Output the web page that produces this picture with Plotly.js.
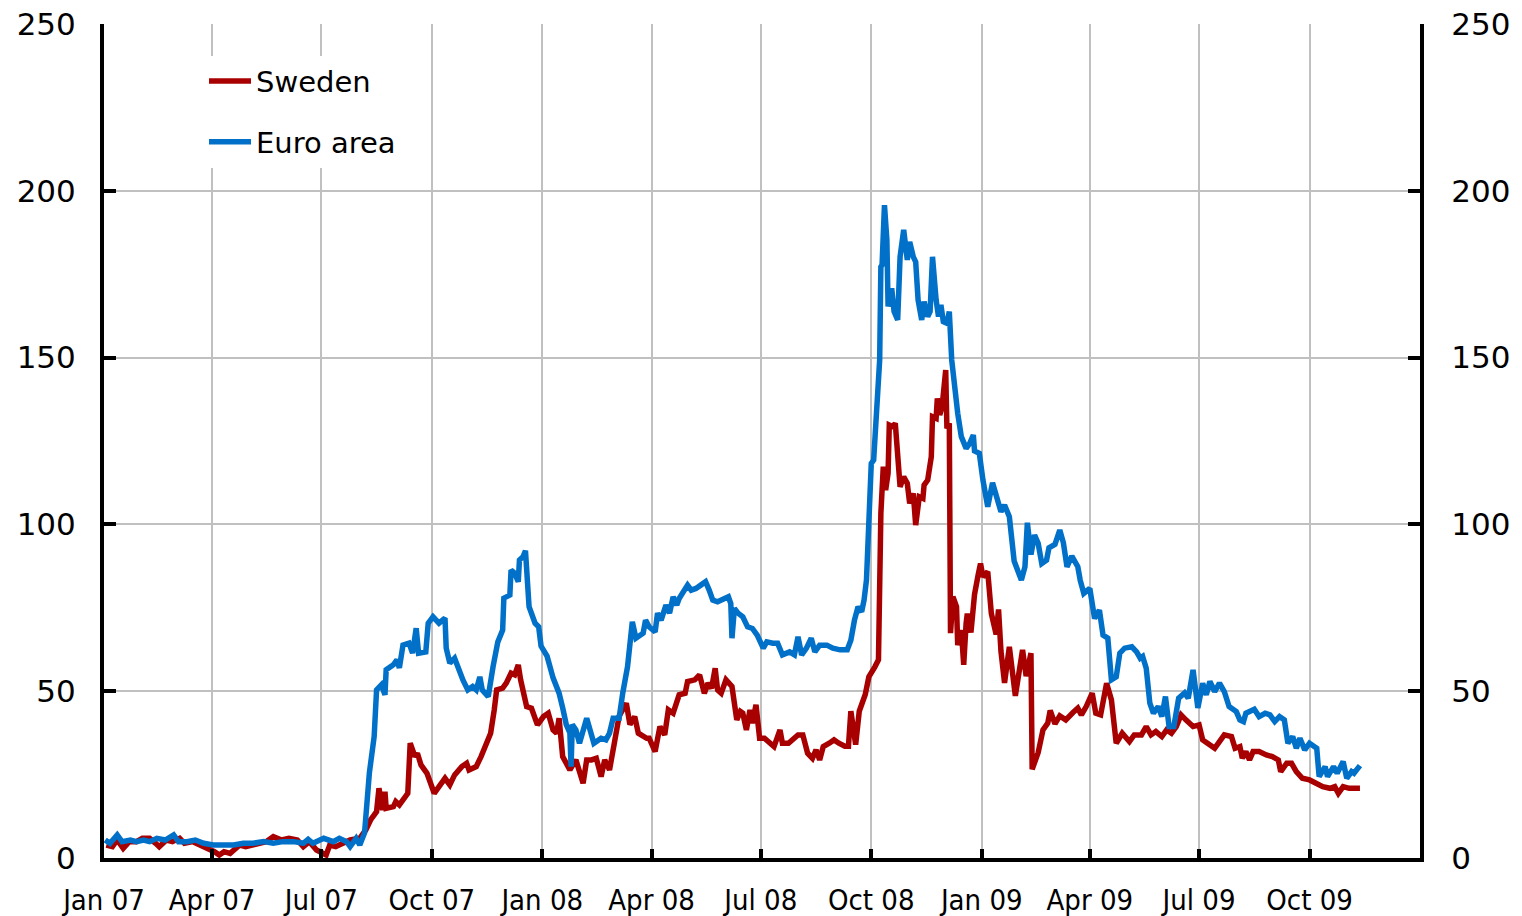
<!DOCTYPE html>
<html>
<head>
<meta charset="utf-8">
<script src="https://cdn.plot.ly/plotly-3.0.1.min.js"></script>
<style>
html,body{margin:0;padding:0;background:#fff;}
#chart{width:1522px;height:916px;}
</style>
</head>
<body>
<div id="chart"></div>
<script>
// ---- Data ----
var seriesNames = ['Sweden', 'Euro area'];

var swedenDates = [
'2007-01-03','2007-01-08','2007-01-12','2007-01-17','2007-01-22','2007-01-28','2007-02-02','2007-02-08','2007-02-13','2007-02-16',
'2007-02-22','2007-02-27','2007-03-05','2007-03-09','2007-03-16','2007-03-22','2007-03-27','2007-04-03','2007-04-07','2007-04-11',
'2007-04-16','2007-04-20','2007-04-24','2007-04-29','2007-05-08','2007-05-16','2007-05-22','2007-05-29','2007-06-04','2007-06-11',
'2007-06-16','2007-06-21','2007-06-27','2007-06-30','2007-07-05','2007-07-08','2007-07-13','2007-07-19','2007-07-25','2007-08-02',
'2007-08-07','2007-08-11','2007-08-16','2007-08-18','2007-08-21','2007-08-23','2007-08-24','2007-08-30','2007-09-01','2007-09-04',
'2007-09-08','2007-09-11','2007-09-13','2007-09-17','2007-09-19','2007-09-22','2007-09-27','2007-10-03','2007-10-07','2007-10-12',
'2007-10-16','2007-10-20','2007-10-26','2007-10-30','2007-11-01','2007-11-07','2007-11-11','2007-11-15','2007-11-19','2007-11-22',
'2007-11-24','2007-11-29','2007-12-02','2007-12-06','2007-12-09','2007-12-12','2007-12-14','2007-12-19','2007-12-23','2007-12-28',
'2008-01-02','2008-01-06','2008-01-10','2008-01-13','2008-01-15','2008-01-18','2008-01-24','2008-01-29','2008-02-01','2008-02-04',
'2008-02-07','2008-02-11','2008-02-15','2008-02-19','2008-02-22','2008-02-26','2008-03-01','2008-03-05','2008-03-11','2008-03-14',
'2008-03-18','2008-03-21','2008-03-28','2008-03-30','2008-04-04','2008-04-08','2008-04-12','2008-04-15','2008-04-19','2008-04-24',
'2008-04-29','2008-05-01','2008-05-07','2008-05-11','2008-05-15','2008-05-18','2008-05-21','2008-05-24','2008-05-26','2008-05-29',
'2008-06-02','2008-06-07','2008-06-11','2008-06-14','2008-06-16','2008-06-19','2008-06-22','2008-06-24','2008-06-27','2008-06-30',
'2008-07-04','2008-07-08','2008-07-12','2008-07-17','2008-07-19','2008-07-24','2008-07-28','2008-08-01','2008-08-05','2008-08-09',
'2008-08-13','2008-08-16','2008-08-19','2008-08-22','2008-08-27','2008-08-31','2008-09-04','2008-09-09','2008-09-12','2008-09-14',
'2008-09-18','2008-09-21','2008-09-26','2008-09-29','2008-10-04','2008-10-07','2008-10-09','2008-10-11','2008-10-13','2008-10-15',
'2008-10-16','2008-10-19','2008-10-21','2008-10-25','2008-10-28','2008-10-31','2008-11-02','2008-11-05','2008-11-07','2008-11-10',
'2008-11-13','2008-11-14','2008-11-17','2008-11-20','2008-11-21','2008-11-24','2008-11-25','2008-11-27','2008-11-29','2008-12-02',
'2008-12-03','2008-12-05','2008-12-06','2008-12-08','2008-12-11','2008-12-12','2008-12-15','2008-12-17','2008-12-19','2008-12-20',
'2008-12-23','2008-12-26','2008-12-29','2008-12-31','2009-01-02','2009-01-06','2009-01-09','2009-01-13','2009-01-15','2009-01-17',
'2009-01-20','2009-01-24','2009-01-29','2009-02-04','2009-02-07','2009-02-11','2009-02-12','2009-02-17','2009-02-21','2009-02-25',
'2009-02-27','2009-03-03','2009-03-07','2009-03-12','2009-03-18','2009-03-22','2009-03-25','2009-03-29','2009-04-03','2009-04-06',
'2009-04-10','2009-04-15','2009-04-19','2009-04-23','2009-04-28','2009-05-04','2009-05-08','2009-05-14','2009-05-18','2009-05-22',
'2009-05-26','2009-05-31','2009-06-04','2009-06-08','2009-06-12','2009-06-16','2009-06-20','2009-06-26','2009-07-01','2009-07-04',
'2009-07-08','2009-07-14','2009-07-18','2009-07-22','2009-07-28','2009-07-31','2009-08-04','2009-08-06','2009-08-09','2009-08-12',
'2009-08-15','2009-08-20','2009-08-26','2009-08-31','2009-09-05','2009-09-07','2009-09-12','2009-09-16','2009-09-20','2009-09-25',
'2009-10-01','2009-10-07','2009-10-12','2009-10-18','2009-10-22','2009-10-25','2009-10-29','2009-11-03','2009-11-12'
];
var swedenValues = [
3.9,3.4,5.4,2.9,4.9,4.9,5.9,5.9,4.4,3.4,
5.4,4.9,5.9,4.4,4.9,3.9,3.4,1.9,0.9,1.9,
1.4,2.9,3.9,3.4,4.4,4.9,6.4,5.4,5.9,5.4,
3.4,4.9,2.4,1.9,0.9,3.9,3.4,4.4,5.4,5.9,
8.4,11.4,13.9,20.9,14.4,19.9,14.9,15.4,16.9,15.9,
17.9,19.4,34.4,30.4,31.4,27.9,25.4,19.4,21.4,23.9,
21.9,24.9,27.4,28.4,26.4,27.4,30.4,34.4,37.4,44.4,
50.4,50.9,52.4,55.4,54.9,57.9,53.4,45.4,44.9,39.9,
42.4,43.4,38.4,37.4,41.9,30.4,26.4,29.4,25.4,22.4,
29.4,29.4,29.9,24.4,29.4,26.4,34.4,42.5,46.4,40.0,
42.4,37.4,35.9,35.9,31.9,39.4,36.9,44.4,43.4,48.9,
49.4,52.9,53.4,54.9,49.4,52.4,50.9,56.9,50.4,49.4,
53.4,51.4,41.4,43.9,43.4,38.4,44.4,40.4,45.9,35.9,
35.9,34.4,33.4,38.4,34.4,34.4,35.9,36.9,36.9,31.4,
29.9,32.4,29.4,33.4,34.4,35.4,34.4,33.5,33.5,44.0,
34.0,44.0,49.0,54.3,57.3,59.4,103.3,117.3,110.3,115.3,
129.8,129.3,130.3,111.3,114.3,112.3,106.3,109.3,99.8,108.3,
107.8,111.8,113.3,120.3,132.3,131.8,137.8,132.8,135.3,146.3,
128.8,130.3,67.4,78.3,75.3,63.8,68.3,57.9,70.4,73.3,
67.6,79.0,84.8,88.3,84.3,85.8,73.3,67.0,74.5,62.0,
52.5,63.3,48.6,62.4,54.5,61.4,26.6,31.6,38.4,40.4,
44.2,40.2,42.6,41.4,43.6,44.9,42.9,45.4,49.4,43.4,
42.9,52.4,47.4,34.4,37.4,34.9,36.9,36.9,39.4,36.9,
37.9,36.4,38.4,37.4,39.4,42.9,41.4,39.4,39.9,35.4,
34.4,32.9,34.9,36.9,36.4,32.9,33.4,29.9,31.9,29.4,
31.9,31.9,30.9,30.4,29.4,25.9,28.4,28.4,25.9,23.9,
23.4,22.4,21.4,20.9,21.4,19.4,21.4,20.9,20.9
];

var euroDates = [
'2007-01-02','2007-01-06','2007-01-12','2007-01-16','2007-01-23','2007-01-28','2007-02-03','2007-02-08','2007-02-14','2007-02-21',
'2007-02-28','2007-03-04','2007-03-11','2007-03-18','2007-03-25','2007-04-02','2007-04-10','2007-04-19','2007-04-27','2007-05-05',
'2007-05-14','2007-05-22','2007-05-30','2007-06-08','2007-06-16','2007-06-20','2007-06-24','2007-07-03','2007-07-11','2007-07-16',
'2007-07-22','2007-07-25','2007-07-30','2007-08-02','2007-08-06','2007-08-10','2007-08-14','2007-08-16','2007-08-20','2007-08-23',
'2007-08-24','2007-08-30','2007-09-02','2007-09-04','2007-09-07','2007-09-12','2007-09-15','2007-09-18','2007-09-20','2007-09-26',
'2007-09-28','2007-10-02','2007-10-07','2007-10-12','2007-10-13','2007-10-16','2007-10-20','2007-10-24','2007-10-27','2007-10-31',
'2007-11-04','2007-11-07','2007-11-10','2007-11-12','2007-11-17','2007-11-21','2007-11-25','2007-11-29','2007-11-30','2007-12-05',
'2007-12-06','2007-12-09','2007-12-12','2007-12-13','2007-12-16','2007-12-18','2007-12-21','2007-12-26','2007-12-29','2007-12-31',
'2008-01-05','2008-01-10','2008-01-15','2008-01-18','2008-01-21','2008-01-24','2008-01-25','2008-01-26','2008-01-29','2008-02-01',
'2008-02-07','2008-02-13','2008-02-19','2008-02-23','2008-02-26','2008-02-29','2008-03-05','2008-03-08','2008-03-12','2008-03-16',
'2008-03-19','2008-03-25','2008-03-27','2008-03-30','2008-04-04','2008-04-06','2008-04-09','2008-04-13','2008-04-16','2008-04-19',
'2008-04-22','2008-04-24','2008-04-27','2008-05-01','2008-05-04','2008-05-08','2008-05-12','2008-05-16','2008-05-19','2008-05-22',
'2008-05-26','2008-05-30','2008-06-04','2008-06-06','2008-06-07','2008-06-09','2008-06-12','2008-06-16','2008-06-20','2008-06-24',
'2008-06-28','2008-07-03','2008-07-06','2008-07-11','2008-07-15','2008-07-19','2008-07-25','2008-07-29','2008-08-01','2008-08-04',
'2008-08-08','2008-08-12','2008-08-15','2008-08-19','2008-08-25','2008-08-30','2008-09-05','2008-09-11','2008-09-14','2008-09-17',
'2008-09-20','2008-09-23','2008-09-25','2008-09-27','2008-09-28','2008-09-29','2008-10-01','2008-10-03','2008-10-05','2008-10-08',
'2008-10-09','2008-10-10','2008-10-12','2008-10-14','2008-10-15','2008-10-18','2008-10-20','2008-10-23','2008-10-25','2008-10-28',
'2008-10-31','2008-11-02','2008-11-05','2008-11-07','2008-11-09','2008-11-12','2008-11-14','2008-11-17','2008-11-19','2008-11-21',
'2008-11-24','2008-11-26','2008-11-28','2008-11-30','2008-12-03','2008-12-05','2008-12-07','2008-12-09','2008-12-12','2008-12-15',
'2008-12-19','2008-12-22','2008-12-25','2008-12-26','2008-12-30','2009-01-02','2009-01-06','2009-01-10','2009-01-14','2009-01-17',
'2009-01-20','2009-01-24','2009-01-28','2009-02-03','2009-02-06','2009-02-08','2009-02-11','2009-02-14','2009-02-17','2009-02-20',
'2009-02-24','2009-02-26','2009-03-03','2009-03-07','2009-03-10','2009-03-13','2009-03-17','2009-03-22','2009-03-24','2009-03-27',
'2009-04-01','2009-04-05','2009-04-09','2009-04-12','2009-04-16','2009-04-19','2009-04-23','2009-04-26','2009-04-30','2009-05-06',
'2009-05-10','2009-05-13','2009-05-15','2009-05-18','2009-05-21','2009-05-24','2009-05-28','2009-05-31','2009-06-03','2009-06-06',
'2009-06-10','2009-06-14','2009-06-19','2009-06-22','2009-06-26','2009-06-30','2009-07-04','2009-07-07','2009-07-10','2009-07-14',
'2009-07-18','2009-07-22','2009-07-26','2009-08-01','2009-08-04','2009-08-07','2009-08-09','2009-08-16','2009-08-20','2009-08-25',
'2009-08-29','2009-09-02','2009-09-06','2009-09-10','2009-09-13','2009-09-17','2009-09-20','2009-09-23','2009-09-27','2009-10-01',
'2009-10-07','2009-10-09','2009-10-14','2009-10-16','2009-10-21','2009-10-24','2009-10-29','2009-11-01','2009-11-05','2009-11-07',
'2009-11-12'
];
var euroValues = [
5.4,4.4,6.9,4.9,5.4,4.9,5.4,4.9,5.9,5.4,
6.9,4.9,4.9,5.4,4.4,3.9,3.9,3.9,4.4,4.4,
4.9,4.4,4.9,4.9,4.4,5.6,4.4,5.9,4.9,5.9,
4.9,3.4,5.9,3.9,7.5,25.5,36.4,50.4,51.9,48.9,
56.4,57.9,59.4,57.0,63.8,64.4,61.4,68.9,61.4,61.8,
70.4,72.3,70.4,71.9,62.9,58.4,59.9,55.8,53.3,50.4,
51.4,50.4,54.3,50.4,48.4,57.3,64.8,68.3,77.9,78.8,
86.3,85.4,82.8,89.3,90.3,92.1,75.3,70.4,69.3,63.5,
60.5,54.0,49.4,45.0,40.0,37.5,27.4,40.0,38.4,34.4,
41.9,34.4,35.9,35.4,37.4,41.9,41.9,49.4,57.3,70.8,
65.9,67.4,71.3,69.3,67.8,73.4,71.3,75.8,73.4,78.3,
75.8,77.8,79.4,81.8,80.3,80.8,81.8,82.8,80.3,77.3,
76.8,77.3,78.3,76.3,65.9,74.8,73.4,72.3,69.3,68.8,
66.8,62.9,64.8,64.4,64.4,60.9,61.8,60.9,66.3,60.9,
62.9,65.9,61.8,63.8,63.8,62.9,62.4,62.4,65.3,71.3,
75.3,73.8,77.3,83.3,93.3,105.3,118.3,119.3,133.3,149.3,
177.2,177.8,195.7,185.3,165.3,170.8,163.8,161.3,180.2,188.3,
179.3,184.7,180.2,178.7,167.3,161.3,166.8,162.3,163.8,180.2,
167.3,162.3,165.8,160.8,160.3,163.8,149.3,142.3,133.3,126.3,
122.8,124.3,126.8,122.0,121.3,113.3,105.3,112.5,107.3,103.8,
105.8,102.3,89.0,83.3,87.3,100.5,91.0,96.8,94.3,88.3,
89.3,93.0,94.0,98.3,94.5,87.3,90.5,87.3,83.3,79.3,
80.8,71.8,74.3,66.8,65.9,53.4,54.3,61.4,62.9,63.3,
61.8,59.9,60.4,56.9,46.4,43.4,45.4,42.4,48.4,39.4,
39.4,47.9,49.5,47.9,56.4,45.0,52.4,48.9,52.9,49.9,
52.4,49.9,45.4,43.9,41.4,40.9,43.4,44.6,42.4,43.4,
42.9,40.9,42.4,41.4,34.4,36.4,32.9,35.9,32.4,34.4,
32.9,24.4,27.4,24.4,27.4,25.4,28.9,23.9,25.9,25.4,
27.7
];

var xTickVals = ['2007-01-01','2007-04-01','2007-07-01','2007-10-01','2008-01-01','2008-04-01',
                 '2008-07-01','2008-10-01','2009-01-01','2009-04-01','2009-07-01','2009-10-01'];
var xTickText = ['Jan 07','Apr 07','Jul 07','Oct 07','Jan 08','Apr 08',
                 'Jul 08','Oct 08','Jan 09','Apr 09','Jul 09','Oct 09'];
var yTickVals = [0, 50, 100, 150, 200, 250];
var xRange = ['2007-01-01', '2010-01-01'];
var yRange = [0, 250];

// ---- Styling ----
var red = '#A80000';
var blue = '#0070C8';
var gridColor = '#C0C0C0';
var yFont = {family: 'DejaVu Sans, Verdana, sans-serif', size: 31, color: '#000'};
var xFont = {family: 'DejaVu Sans Condensed, DejaVu Sans, sans-serif', size: 29, color: '#000'};

var traces = [
  {x: swedenDates, y: swedenValues, name: seriesNames[0], type: 'scatter', mode: 'lines',
   line: {color: red, width: 5.5}, legendgroup: 'a'},
  {x: euroDates, y: euroValues, name: seriesNames[1], type: 'scatter', mode: 'lines',
   line: {color: blue, width: 5.5}, legendgroup: 'b'},
  {x: [xRange[0]], y: [null], yaxis: 'y2', showlegend: false, hoverinfo: 'skip',
   type: 'scatter', mode: 'lines'}
];

var layout = {
  width: 1522, height: 916,
  margin: {l: 104, r: 102, t: 24, b: 58, pad: 0},
  paper_bgcolor: '#fff', plot_bgcolor: '#fff',
  showlegend: true,
  legend: {
    x: 0.076, y: 0.962, xanchor: 'left', yanchor: 'top',
    bgcolor: '#fff', borderwidth: 0,
    font: {family: 'DejaVu Sans, sans-serif', size: 29, color: '#000'},
    traceorder: 'grouped', tracegroupgap: 20, itemwidth: 42
  },
  xaxis: {
    type: 'date', range: xRange,
    tickvals: xTickVals, ticktext: xTickText,
    showgrid: true, gridcolor: gridColor, gridwidth: 2,
    showline: true, linecolor: '#000', linewidth: 4,
    ticks: 'inside', ticklen: 9, tickwidth: 4, tickcolor: '#000',
    tickfont: xFont, ticklabelstandoff: 13,
    zeroline: false, fixedrange: true
  },
  yaxis: {
    range: yRange, tickvals: yTickVals,
    showgrid: true, gridcolor: gridColor, gridwidth: 2,
    showline: true, linecolor: '#000', linewidth: 4,
    ticks: 'inside', ticklen: 12, tickwidth: 4, tickcolor: '#000',
    tickfont: yFont, ticklabelstandoff: 18,
    zeroline: false, fixedrange: true
  },
  yaxis2: {
    range: yRange, tickvals: yTickVals, overlaying: 'y', side: 'right', anchor: 'x',
    showgrid: false,
    showline: true, linecolor: '#000', linewidth: 4,
    ticks: 'inside', ticklen: 12, tickwidth: 4, tickcolor: '#000',
    tickfont: yFont, ticklabelstandoff: 21,
    zeroline: false, fixedrange: true
  }
};

Plotly.newPlot('chart', traces, layout, {displayModeBar: false, staticPlot: true});
</script>
</body>
</html>
